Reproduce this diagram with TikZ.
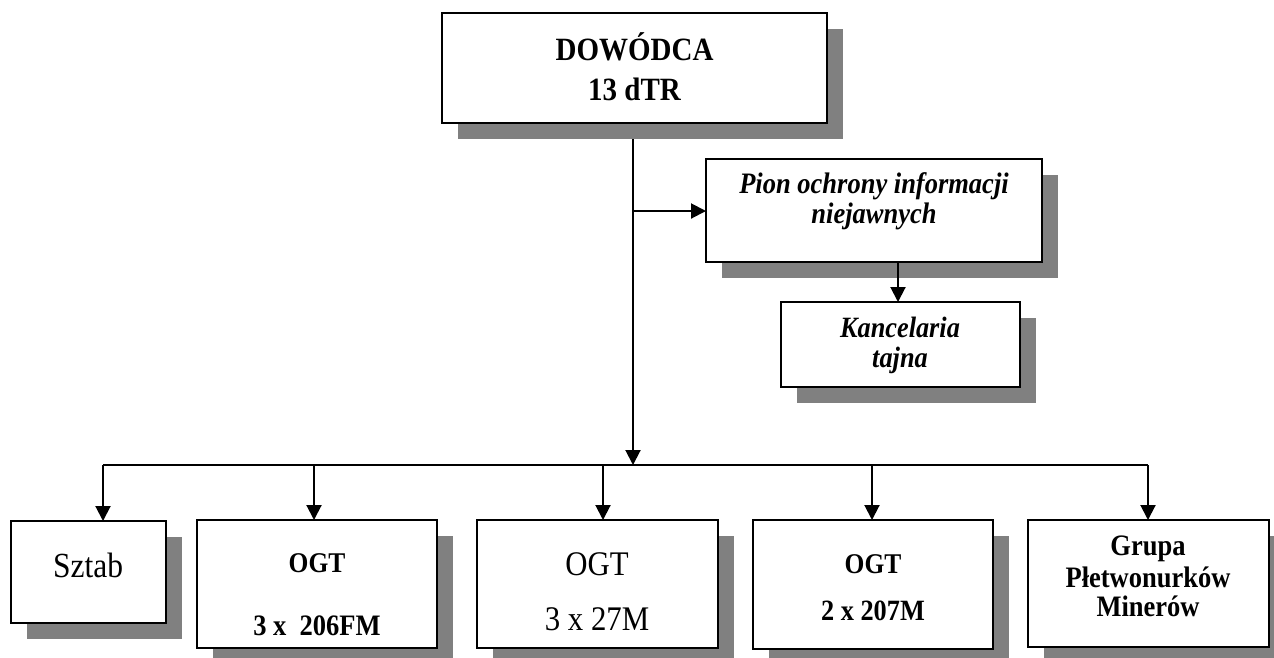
\documentclass[tikz,border=0pt]{standalone}
\usepackage{graphicx}
\usepackage{fontspec}
\setmainfont{Liberation Serif}
\usetikzlibrary{arrows.meta,shadows,calc}
\definecolor{shade}{HTML}{808080}
\tikzset{
  box/.style={draw=black, line width=2pt, fill=white, inner sep=0pt, outer sep=0pt,
    general shadow={fill=shade, shadow xshift=16pt, shadow yshift=-16pt}},
  lbl/.style={anchor=base, inner sep=0pt, outer sep=0pt},
  conn/.style={line width=2pt, -{Triangle[length=15pt,width=15pt]}},
  busline/.style={line width=2pt},
}
\newcommand{\fs}[1]{\fontsize{#1}{#1}\selectfont}
\newcommand{\tx}[1]{\scalebox{1}[1.12]{#1}}
\begin{document}
\begin{tikzpicture}[x=1pt,y=-1pt]
\useasboundingbox (0,0) rectangle (1274,657);
% boxes
\node[box, minimum width=385pt, minimum height=110pt] (top) at (634.5,68) {};
\node[box, minimum width=336pt, minimum height=103pt] (pion) at (874,210.5) {};
\node[box, minimum width=239pt, minimum height=85pt] (kanc) at (900.5,344.5) {};
\node[box, minimum width=155pt, minimum height=102pt] (sztab) at (88.5,572) {};
\node[box, minimum width=240pt, minimum height=128pt] (ogt1) at (317,584) {};
\node[box, minimum width=241pt, minimum height=128pt] (ogt2) at (597.5,584) {};
\node[box, minimum width=240pt, minimum height=129pt] (ogt3) at (873,584.5) {};
\node[box, minimum width=241pt, minimum height=127pt] (grupa) at (1148.5,583.5) {};
% texts
\node[lbl, font=\fs{29}\bfseries] (t1) at (634.5,60) {\tx{DOWÓDCA}};
\node[lbl, font=\fs{29}\bfseries] (t2) at (634.5,100) {\tx{13 dTR}};
\node[lbl, font=\fs{26.5}\bfseries\itshape] (p1) at (874,193) {\tx{Pion ochrony informacji}};
\node[lbl, font=\fs{26.5}\bfseries\itshape] (p2) at (874,223) {\tx{niejawnych}};
\node[lbl, font=\fs{26.3}\bfseries\itshape] (k1) at (900,337) {\tx{Kancelaria}};
\node[lbl, font=\fs{26.3}\bfseries\itshape] (k2) at (900,367) {\tx{tajna}};
\node[lbl, font=\fs{31.5}] (s1t) at (88,577) {\tx{Sztab}};
\node[lbl, font=\fs{25.5}\bfseries] (o1a) at (317,572) {\tx{OGT}};
\node[lbl, font=\fs{26.5}\bfseries] (o1b) at (317,635) {\tx{3 x \ 206FM}};
\node[lbl, font=\fs{30.8}] (o2a) at (597,575) {\tx{OGT}};
\node[lbl, font=\fs{30.8}] (o2b) at (597,630) {\tx{3 x 27M}};
\node[lbl, font=\fs{25.5}\bfseries] (o3a) at (873,573) {\tx{OGT}};
\node[lbl, font=\fs{26.3}\bfseries] (o3b) at (873,620) {\tx{2 x 207M}};
\node[lbl, font=\fs{26.5}\bfseries] (g1) at (1148,555) {\tx{Grupa}};
\node[lbl, font=\fs{26.5}\bfseries] (g2) at (1148,587) {\tx{Płetwonurków}};
\node[lbl, font=\fs{26.5}\bfseries] (g3) at (1148,616) {\tx{Minerów}};
% connectors
\coordinate (bus) at (633,465);
\coordinate (j1) at (633,211);
\coordinate (j2) at (898,262);
\coordinate (d1) at (103,465);
\coordinate (d2) at (314,465);
\coordinate (d3) at (603,465);
\coordinate (d4) at (872,465);
\coordinate (d5) at (1148,465);
\draw[conn] ($(bus |- top.south)+(0,16)$) -- (bus);
\draw[conn] (j1) -- (j1 -| pion.west);
\draw[conn] (j2 |- pion.south) -- (j2 |- kanc.north);
\draw[busline] (d1) -- (d5);
\draw[conn] (d1) -- (d1 |- sztab.north);
\draw[conn] (d2) -- (d2 |- ogt1.north);
\draw[conn] (d3) -- (d3 |- ogt2.north);
\draw[conn] (d4) -- (d4 |- ogt3.north);
\draw[conn] (d5) -- (d5 |- grupa.north);
\end{tikzpicture}
\end{document}
